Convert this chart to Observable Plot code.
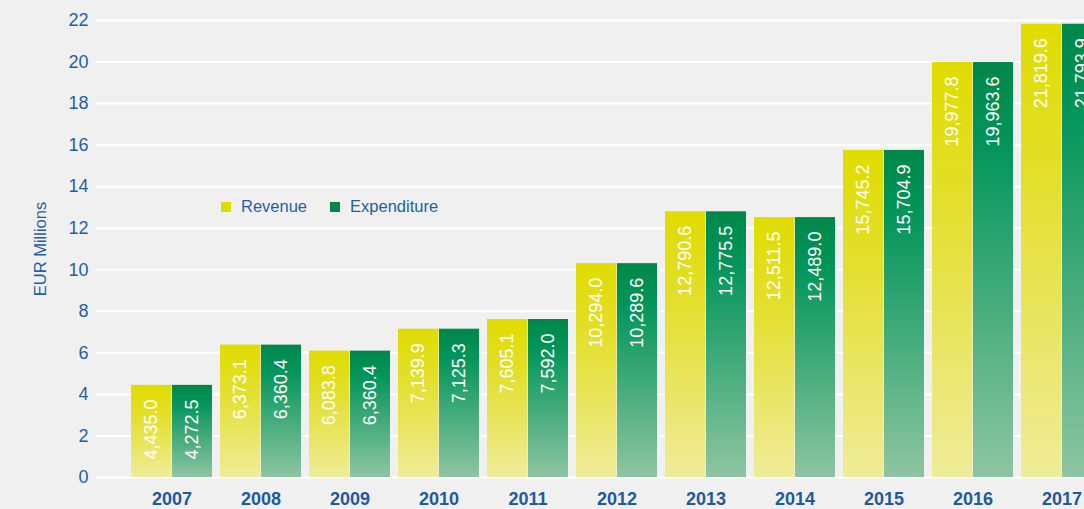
<!DOCTYPE html>
<html>
<head>
<meta charset="utf-8">
<script src="https://cdn.jsdelivr.net/npm/d3@7"></script>
<script src="https://cdn.jsdelivr.net/npm/@observablehq/plot@0.6"></script>
<style>
  html, body { margin: 0; padding: 0; background: #F0F0F0; overflow: hidden; }
  #wrap { position: relative; width: 1084px; height: 509px; overflow: hidden; }
  #chart svg { max-width: none !important; height: 509px !important; display: block; }
  #legend { position: absolute; left: 221px; top: 197px; font-family: "Liberation Sans", Arial, sans-serif; font-size: 16.5px; color: #1F5FA8; display: flex; align-items: center; white-space: nowrap; }
  #legend .sw { display: inline-block; width: 10px; height: 10px; margin-right: 10px; }
  #legend .item { display: inline-flex; align-items: center; margin-right: 23px; }
</style>
</head>
<body>
<svg width="0" height="0" style="position:absolute">
  <defs>
    <linearGradient id="gradRev" x1="0" y1="0" x2="0" y2="1">
      <stop offset="0" stop-color="#E0DC00"/>
      <stop offset="0.35" stop-color="#E3DF2E"/>
      <stop offset="1" stop-color="#EFEC9A"/>
    </linearGradient>
    <linearGradient id="gradExp" x1="0" y1="0" x2="0" y2="1">
      <stop offset="0" stop-color="#00874A"/>
      <stop offset="0.2" stop-color="#03955B"/>
      <stop offset="1" stop-color="#8EC5A1"/>
    </linearGradient>
  </defs>
</svg>
<div id="wrap">
  <div id="chart"></div>
  <div id="legend">
    <span class="item"><span class="sw" style="background:#E0DC00"></span>Revenue</span>
    <span class="item"><span class="sw" style="background:#00874A"></span>Expenditure</span>
  </div>
</div>
<script>
const years = ["2007","2008","2009","2010","2011","2012","2013","2014","2015","2016","2017"];
const revenue = [4435.0, 6373.1, 6083.8, 7139.9, 7605.1, 10294.0, 12790.6, 12511.5, 15745.2, 19977.8, 21819.6];
const expenditure = [4272.5, 6360.4, 6360.4, 7125.3, 7592.0, 10289.6, 12775.5, 12489.0, 15704.9, 19963.6, 21793.9];
// expenditure bar heights as drawn in the picture (they match the revenue bars)
const expenditureBarHeight = [4435.0, 6373.1, 6083.8, 7139.9, 7605.1, 10294.0, 12790.6, 12511.5, 15745.2, 19977.8, 21819.6];
const yTicks = [0, 2000, 4000, 6000, 8000, 10000, 12000, 14000, 16000, 18000, 20000, 22000];

const data = years.map((year, i) => ({
  year,
  revenue: revenue[i],
  expenditure: expenditure[i],
  expBar: expenditureBarHeight[i]
}));
const fmt = d3.format(",.1f");
const blue = "#1F5FA8";

const chart = Plot.plot({
  width: 1110,
  height: 509,
  marginLeft: 96,
  marginRight: 0,
  marginTop: 20,
  marginBottom: 32,
  style: {background: "#F0F0F0", fontFamily: "'Liberation Sans', Arial, sans-serif", maxWidth: "none"},
  x: {domain: years, range: [130, 1103], paddingInner: 0.09, paddingOuter: 0, label: null},
  y: {domain: [0, 22000], label: null},
  marks: [
    Plot.gridY(yTicks, {stroke: "#FFFFFF", strokeOpacity: 1, strokeWidth: 2}),
    Plot.barY(data, {x: "year", y: "revenue", fill: "url(#gradRev)", insetRight: 40.6}),
    Plot.barY(data, {x: "year", y: "expBar", fill: "url(#gradExp)", insetLeft: 41}),
    Plot.text(data, {x: "year", y: "revenue", text: d => fmt(d.revenue), rotate: -90, textAnchor: "end", lineAnchor: "middle", dy: 14, dx: -20.3, fill: "white", fontSize: 18}),
    Plot.text(data, {x: "year", y: "expBar", text: d => fmt(d.expenditure), rotate: -90, textAnchor: "end", lineAnchor: "middle", dy: 14, dx: 20.6, fill: "white", fontSize: 18}),
    Plot.axisY(yTicks, {tickSize: 0, tickPadding: 8, tickFormat: d => d / 1000, fontSize: 18, fill: blue, label: null}),
    Plot.text(["EUR Millions"], {frameAnchor: "left", text: d => d, rotate: -90, textAnchor: "middle", dx: -56, fill: blue, fontSize: 16.5}),
    Plot.axisX({tickSize: 0, tickPadding: 15, fontSize: 18, fontWeight: "bold", fill: "#1D5A9E", label: null})
  ]
});
document.getElementById("chart").appendChild(chart);
</script>
</body>
</html>
